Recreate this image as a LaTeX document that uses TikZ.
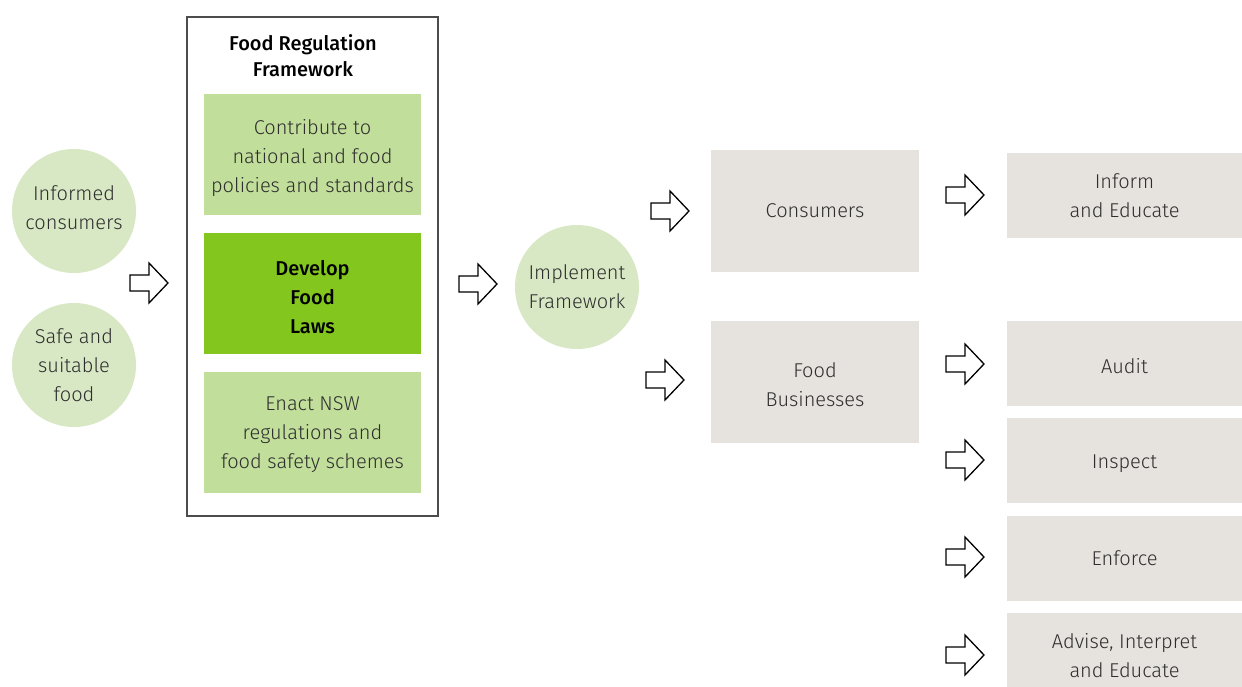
\documentclass[tikz,border=0pt]{standalone}
\usepackage{fontspec}
\setmainfont{Fira Sans Light}[BoldFont={Fira Sans Medium}]
\usetikzlibrary{positioning}

\definecolor{circgreen}{HTML}{D9E8C4}
\definecolor{boxgreen}{HTML}{C2DE9B}
\definecolor{lawgreen}{HTML}{82C61E}
\definecolor{boxgray}{HTML}{E6E2DD}
\definecolor{txtgray}{HTML}{2E2E2E}

\tikzset{
  goal/.style = {circle, fill=circgreen, minimum size=62pt, inner sep=0pt,
    align=center, text=txtgray},
  step box/.style = {fill=boxgreen, minimum width=108.5pt, minimum height=60.5pt,
    inner sep=0pt, align=center, text=txtgray},
  target/.style = {fill=boxgray, minimum width=104pt, minimum height=61pt,
    inner sep=0pt, align=center, text=txtgray},
  action/.style = {fill=boxgray, minimum width=117.5pt, minimum height=42.5pt,
    inner sep=0pt, align=center, text=txtgray},
  sunk/.style = {text height=#1},
  fwd/.pic = {
    \draw[line width=0.65pt, fill=white, line join=miter]
      (-19,-8) -- (0,-8) -- (0,-20) -- (19,0) -- (0,20) -- (0,8) -- (-19,8) -- cycle;
  }
}

\begin{document}
\begin{tikzpicture}[x=0.5pt, y=-0.5pt, font=\fontsize{10}{14.5}\selectfont]
  \useasboundingbox (0,0) rectangle (1242,686);

  % inputs
  \node[goal, sunk=19pt] (informed) at (74,211) {Informed\\consumers};
  \node[goal] (safe) at (74,365) {Safe and\\suitable\\food};

  % framework
  \draw[draw=black!70, line width=0.6pt] (187,17) rectangle (438,516);
  \node[font=\fontsize{10}{13}\selectfont\bfseries, align=center] (title) at (303,56)
    {Food Regulation\\Framework};
  \node[step box, sunk=40.5pt] (contribute) at (312.5,154.5)
    {Contribute to\\national and food\\policies and standards};
  \node[step box, sunk=40.5pt, fill=lawgreen, text=black,
    font=\fontsize{10}{14.5}\selectfont\bfseries] (develop) at (312.5,293.5)
    {Develop\\Food\\Laws};
  \node[step box, sunk=38.5pt] (enact) at (312.5,432.5)
    {Enact NSW\\regulations and\\food safety schemes};

  \node[goal] (implement) at (577,287) {Implement\\Framework};

  % who is regulated
  \node[target] (consumers) at (815,211) {Consumers};
  \node[target, sunk=25pt] (business) at (815,382) {Food\\Businesses};

  % what is done
  \node[action] (inform) at (1124.5,195.5) {Inform\\and Educate};
  \node[action, sunk=10pt] (audit) at (1124.5,363.5) {Audit};
  \node[action, sunk=10pt] (inspect) at (1124.5,460.5) {Inspect};
  \node[action] (enforce) at (1124.5,558.5) {Enforce};
  \node[action] (advise) at (1124.5,655.5) {Advise, Interpret\\and Educate};

  % block arrows
  \pic at (149,283) {fwd};
  \pic at (478,284) {fwd};
  \pic at (670,211) {fwd};
  \pic at (665,380) {fwd};
  \foreach \y in {195,364,460,557,655}
    \pic at (965,\y) {fwd};
\end{tikzpicture}
\end{document}
